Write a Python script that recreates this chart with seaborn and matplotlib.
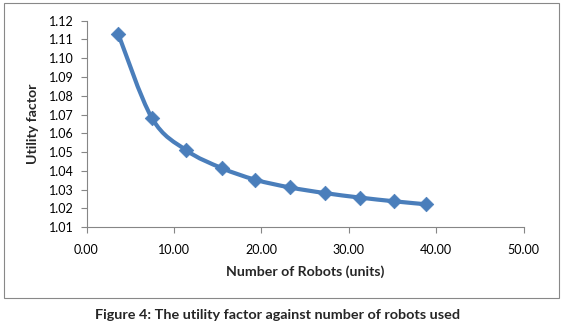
import matplotlib
matplotlib.use('Agg')
import matplotlib.pyplot as plt
from matplotlib.path import Path
from matplotlib.patches import PathPatch, Rectangle
import numpy as np
import pandas as pd
import seaborn as sns

# values
robots = [3.62, 7.49, 11.44, 15.47, 19.30, 23.25, 27.25, 31.24, 35.19, 38.85]
utility = [1.1131, 1.0681, 1.0509, 1.0415, 1.0353, 1.0312, 1.0282, 1.0258, 1.0238, 1.0222]
x_ticks = [0, 10, 20, 30, 40, 50]
y_ticks = [1.01, 1.02, 1.03, 1.04, 1.05, 1.06, 1.07, 1.08, 1.09, 1.10, 1.11, 1.12]

df = pd.DataFrame({'robots': robots, 'utility': utility})

sns.set_style('white')
plt.rcParams['font.family'] = ['Lato', 'DejaVu Sans']

W, H = 563, 324
fig = plt.figure(figsize=(W / 100, H / 100), dpi=100)
ax = fig.add_axes([86.5 / W, 1 - 227.2 / H, (523.5 - 86.5) / W, (227.2 - 20.7) / H])

blue = '#4A7EBB'

# smoothed line (Excel-style bezier through the points)
pts = np.column_stack([robots, utility])
verts = [tuple(pts[0])]
codes = [Path.MOVETO]
n = len(pts)
for i in range(n - 1):
    p0 = pts[max(i - 1, 0)]
    p1 = pts[i]
    p2 = pts[i + 1]
    p3 = pts[min(i + 2, n - 1)]
    c1 = p1 + (p2 - p0) / 6
    c2 = p2 - (p3 - p1) / 6
    verts += [tuple(c1), tuple(c2), tuple(p2)]
    codes += [Path.CURVE4] * 3
ax.add_patch(PathPatch(Path(verts, codes), fill=False, edgecolor=blue, lw=3, capstyle='round', joinstyle='round', zorder=2))

sns.scatterplot(data=df, x='robots', y='utility', marker='D', s=55, color=blue,
                edgecolor=blue, linewidth=0.5, ax=ax, zorder=3)

ax.set_xlim(0, 50)
ax.set_ylim(1.01, 1.12)
ax.set_xticks(x_ticks)
ax.set_xticklabels([f'{v:.2f}' for v in x_ticks])
ax.set_yticks(y_ticks)
ax.set_yticklabels([f'{v:.2f}' for v in y_ticks])
ax.tick_params(axis='both', direction='out', length=4, width=0.8, color='#868686',
               labelsize=9, labelcolor='black', pad=5, left=True, bottom=True)
ax.tick_params(axis='x', pad=8)
for side in ['top', 'right']:
    ax.spines[side].set_visible(False)
for side in ['left', 'bottom']:
    ax.spines[side].set_color('#868686')
    ax.spines[side].set_linewidth(0.8)

ax.set_xlabel('Number of Robots (units)', fontsize=10.2, fontweight='bold', labelpad=7)
ax.set_ylabel('Utility factor', fontsize=10.2, fontweight='bold', labelpad=7)

# outer chart border
fig.patches.append(Rectangle((3.6 / W, 1 - 297.7 / H), (558.6 - 3.6) / W, (297.7 - 3.3) / H,
                             transform=fig.transFigure, fill=False, edgecolor='#888888', lw=0.8))

fig.text(278 / W, 1 - 315 / H, 'Figure 4: The utility factor against number of robots used',
         ha='center', va='center', fontsize=10.4, fontweight='bold')

fig.savefig('out.png', dpi=100)
